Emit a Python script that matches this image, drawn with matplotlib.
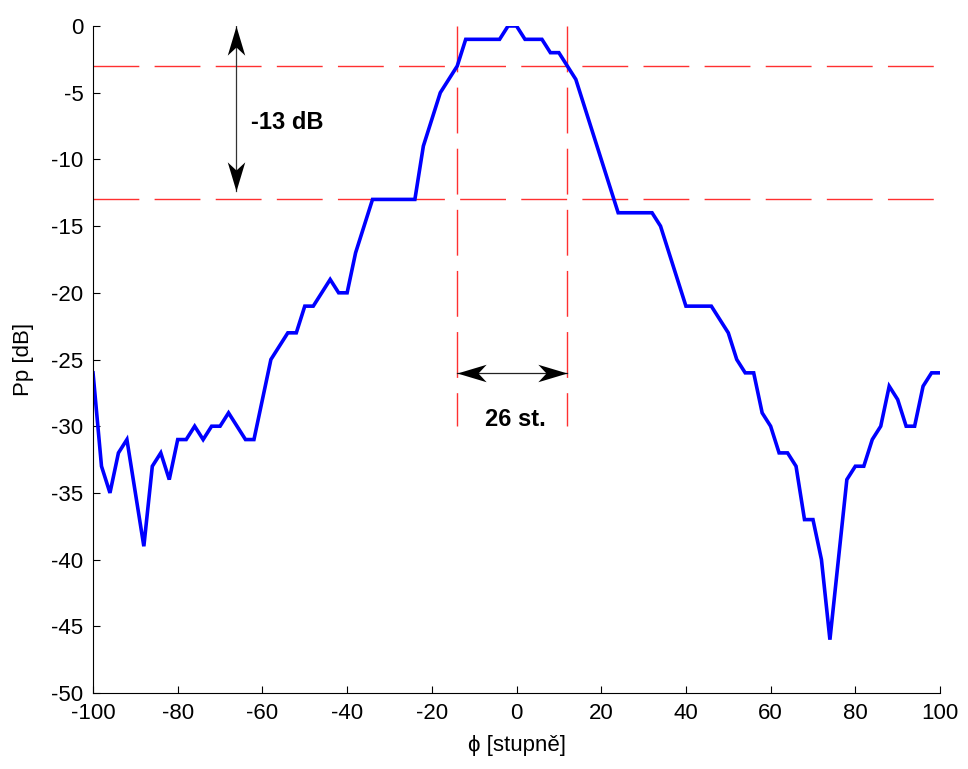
import numpy as np
import matplotlib
matplotlib.use("Agg")
import matplotlib.pyplot as plt
from matplotlib.path import Path

plt.rcParams['font.family'] = ['Liberation Sans', 'DejaVu Sans']
plt.rcParams['axes.unicode_minus'] = False

# measured pattern, 2 degree steps
phi = [-100, -98, -96, -94, -92, -90, -88, -86, -84, -82, -80, -78, -76, -74,
       -72, -70, -68, -66, -64, -62, -60, -58, -56, -54, -52, -50, -48, -46,
       -44, -42, -40, -38, -36, -34, -32, -30, -28, -26, -24, -22, -20, -18,
       -16, -14, -12, -10, -8, -6, -4, -2, 0, 2, 4, 6, 8, 10, 12, 14, 16, 18,
       20, 22, 24, 26, 28, 30, 32, 34, 36, 38, 40, 42, 44, 46, 48, 50, 52, 54,
       56, 58, 60, 62, 64, 66, 68, 70, 72, 74, 76, 78, 80, 82, 84, 86, 88, 90,
       92, 94, 96, 98, 100]
pp = [-26, -33, -35, -32, -31, -35, -39, -33, -32, -34, -31, -31, -30, -31,
      -30, -30, -29, -30, -31, -31, -28, -25, -24, -23, -23, -21, -21, -20,
      -19, -20, -20, -17, -15, -13, -13, -13, -13, -13, -13, -9, -7, -5,
      -4, -3, -1, -1, -1, -1, -1, 0, 0, -1, -1, -1, -2, -2, -3, -4, -6, -8,
      -10, -12, -14, -14, -14, -14, -14, -15, -17, -19, -21, -21, -21, -21, -22, -23, -25, -26,
      -26, -29, -30, -32, -32, -33, -37, -37, -40, -46, -40, -34, -33, -33, -31, -30, -27, -28,
      -30, -30, -27, -26, -26]

level_3db = -3
level_sll = -13
beam_edges = [-14, 12]
sll_label = "-13 dB"
bw_label = "26 st."

fig = plt.figure(figsize=(9.68, 7.69), dpi=100)
ax = fig.add_axes([0.0961, 0.0988, 0.875, 0.8674])

# reference lines
dash = dict(color='#ff3030', lw=1.0, dashes=(33, 11))
ax.axhline(level_3db, **dash)
ax.axhline(level_sll, **dash)
for xe in beam_edges:
    ax.plot([xe, xe], [0, -30], **dash)

ax.plot(phi, pp, color='#0000ff', lw=2.6, solid_joinstyle='miter')


def head(angle):
    # concave arrow head, tip at origin, pointing along +x before rotation
    v = np.array([[0, 0], [-1, 0.3], [-0.72, 0], [-1, -0.3], [0, 0]])
    c, s = np.cos(np.radians(angle)), np.sin(np.radians(angle))
    v = v @ np.array([[c, s], [-s, c]])
    return Path(v, [Path.MOVETO, Path.LINETO, Path.LINETO, Path.LINETO, Path.CLOSEPOLY])


# vertical double arrow
ax.plot([-66.2, -66.2], [0, -12.4], color='#333333', lw=0.9)
ax.plot([-66.2], [0], marker=head(90), ms=42, color='k', mew=0)
ax.plot([-66.2], [-12.4], marker=head(-90), ms=42, color='k', mew=0)
ax.text(-62.6, -7.2, sll_label, fontsize=17, fontweight='bold', va='center', ha='left')

# horizontal double arrow
ax.plot(beam_edges, [-26, -26], color='#222222', lw=0.9)
ax.plot([beam_edges[0]], [-26], marker=head(180), ms=42, color='k', mew=0)
ax.plot([beam_edges[1]], [-26], marker=head(0), ms=42, color='k', mew=0)
ax.text(-7.4, -29.5, bw_label, fontsize=17, fontweight='bold', va='center', ha='left')

ax.set_xlim(-100, 100)
ax.set_ylim(-50, 0)
ax.set_xticks(np.arange(-100, 101, 20))
ax.set_yticks(np.arange(-50, 1, 5))
ax.tick_params(direction='in', length=5, width=0.8, labelsize=16, pad=7)
for side in ('top', 'right'):
    ax.spines[side].set_visible(False)
ax.set_xlabel('\u03d5 [stupně]', fontsize=16, labelpad=8)
ax.set_ylabel('Pp [dB]', fontsize=16, labelpad=12)

fig.savefig('out.png', dpi=100)
